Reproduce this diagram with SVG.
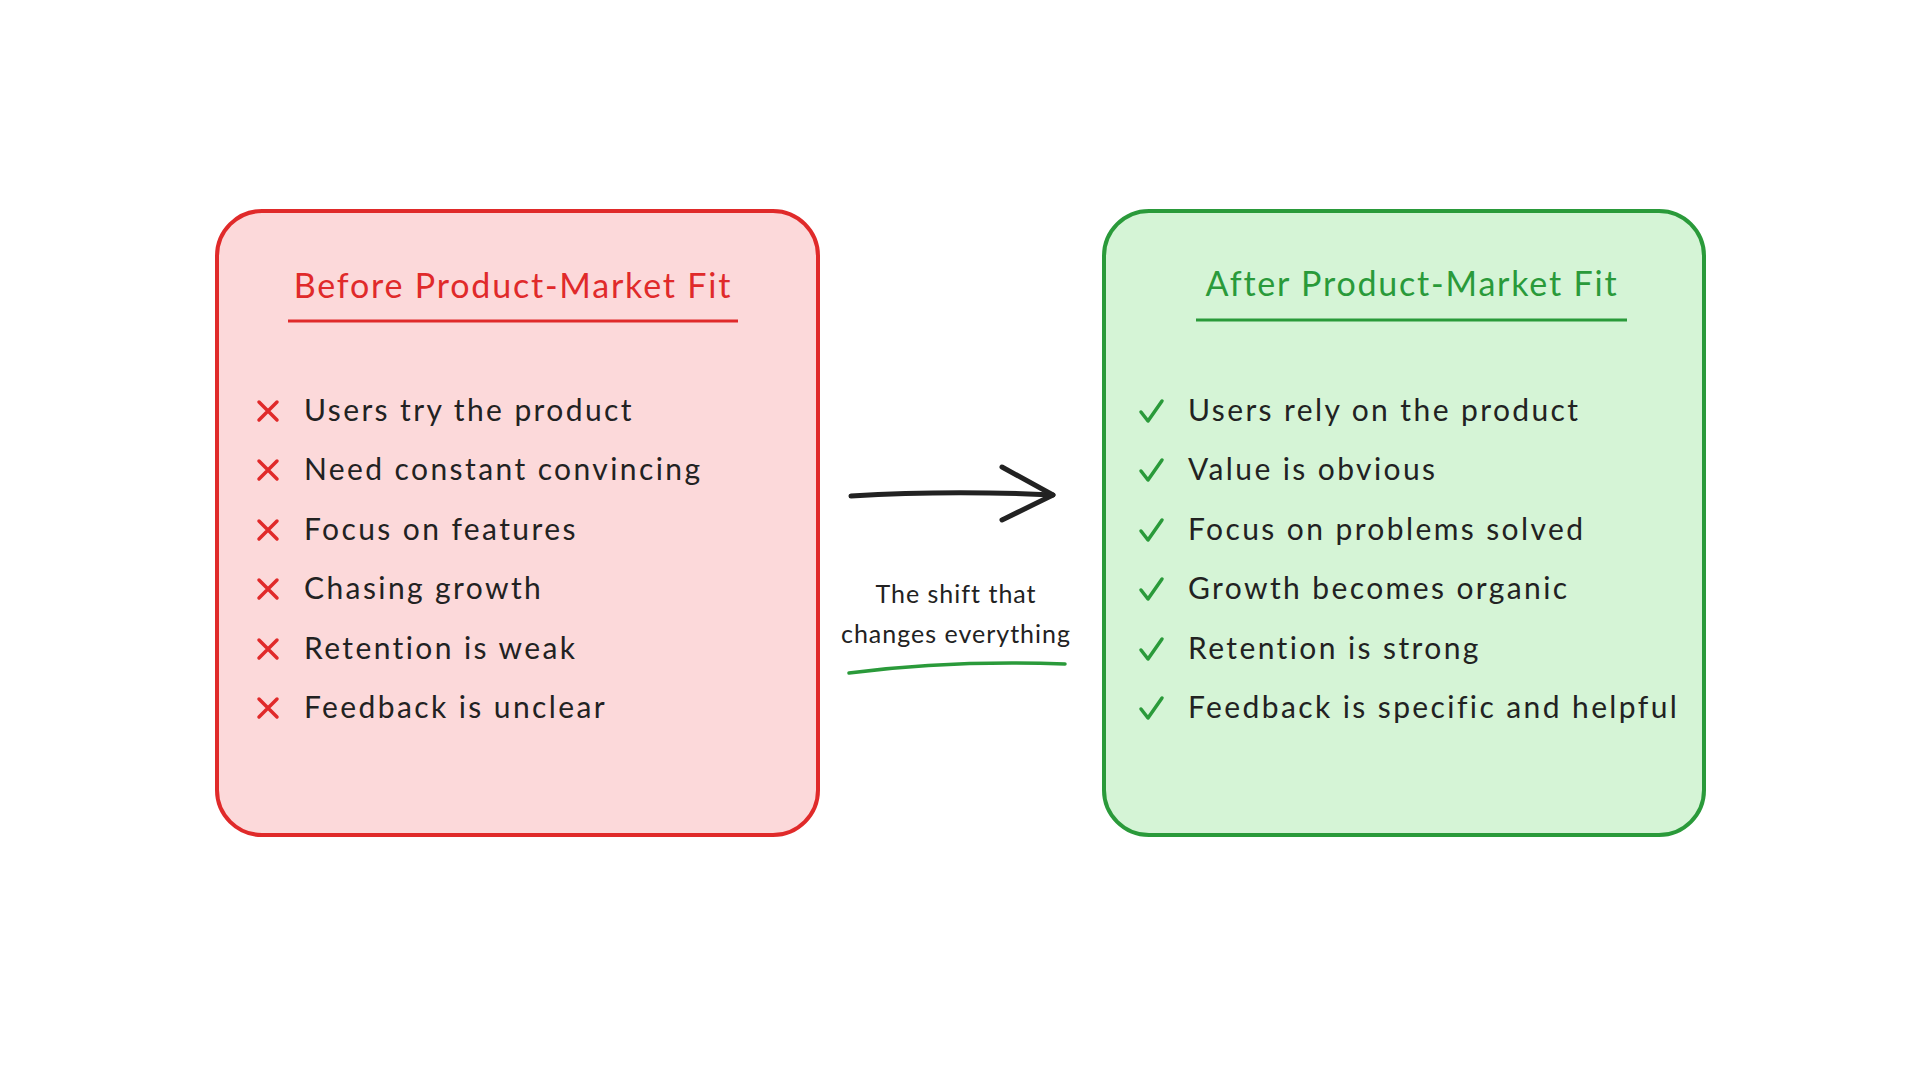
<svg xmlns="http://www.w3.org/2000/svg" width="1920" height="1080" viewBox="0 0 1920 1080">
<style>
.t{font-family:"Lato","Open Sans",sans-serif;font-size:30px;fill:#222;letter-spacing:2.4px}
.h{font-family:"Lato","Open Sans",sans-serif;font-size:34px;letter-spacing:1.8px}
.c{font-family:"Lato","Open Sans",sans-serif;font-size:25px;fill:#222;text-anchor:middle;letter-spacing:1px}
.x{stroke:#e02a2a;stroke-width:3.5;stroke-linecap:round;fill:none}
.k{stroke:#2a9a3a;stroke-width:3.5;stroke-linecap:round;stroke-linejoin:round;fill:none}
</style>
<rect width="1920" height="1080" fill="#fff"/>
<g id="before">
<rect x="217" y="211" width="601" height="624" rx="45" fill="#fcd9da" stroke="#e02a2a" stroke-width="4"/>
<text class="h" x="513" y="298" text-anchor="middle" fill="#e02a2a">Before Product-Market Fit</text>
<line x1="288" y1="321" x2="738" y2="321" stroke="#e02a2a" stroke-width="3"/>
<g class="x">
<path d="M259 402l18 18M277 402l-18 18"/><path d="M259 461l18 18M277 461l-18 18"/><path d="M259 521l18 18M277 521l-18 18"/>
<path d="M259 580l18 18M277 580l-18 18"/><path d="M259 640l18 18M277 640l-18 18"/><path d="M259 699l18 18M277 699l-18 18"/>
</g>
<text class="t" x="304" y="421">Users try the product</text>
<text class="t" x="304" y="480">Need constant convincing</text>
<text class="t" x="304" y="540">Focus on features</text>
<text class="t" x="304" y="599">Chasing growth</text>
<text class="t" x="304" y="659">Retention is weak</text>
<text class="t" x="304" y="718">Feedback is unclear</text>
</g>
<g id="after">
<rect x="1104" y="211" width="600" height="624" rx="45" fill="#d5f4d6" stroke="#2a9a3a" stroke-width="4"/>
<text class="h" x="1412" y="296" text-anchor="middle" fill="#2a9a3a">After Product-Market Fit</text>
<line x1="1196" y1="320" x2="1627" y2="320" stroke="#2a9a3a" stroke-width="3"/>
<g class="k">
<path d="M1141 412l7 9 14-20"/><path d="M1141 471l7 9 14-20"/><path d="M1141 531l7 9 14-20"/>
<path d="M1141 590l7 9 14-20"/><path d="M1141 650l7 9 14-20"/><path d="M1141 709l7 9 14-20"/>
</g>
<text class="t" x="1188" y="421">Users rely on the product</text>
<text class="t" x="1188" y="480">Value is obvious</text>
<text class="t" x="1188" y="540">Focus on problems solved</text>
<text class="t" x="1188" y="599">Growth becomes organic</text>
<text class="t" x="1188" y="659">Retention is strong</text>
<text class="t" x="1188" y="718">Feedback is specific and helpful</text>
</g>
<g id="connectors">
<path d="M851 496Q950 490 1053 495" stroke="#222" stroke-width="5" fill="none" stroke-linecap="round"/>
<path d="M1002 467L1053 495L1002 520" stroke="#222" stroke-width="5" fill="none" stroke-linecap="round" stroke-linejoin="round"/>
<text class="c" x="956" y="603">The shift that</text>
<text class="c" x="956" y="643">changes everything</text>
<path d="M849 673Q950 660 1065 664" stroke="#2a9a3a" stroke-width="3.5" fill="none" stroke-linecap="round"/>
</g>
</svg>
